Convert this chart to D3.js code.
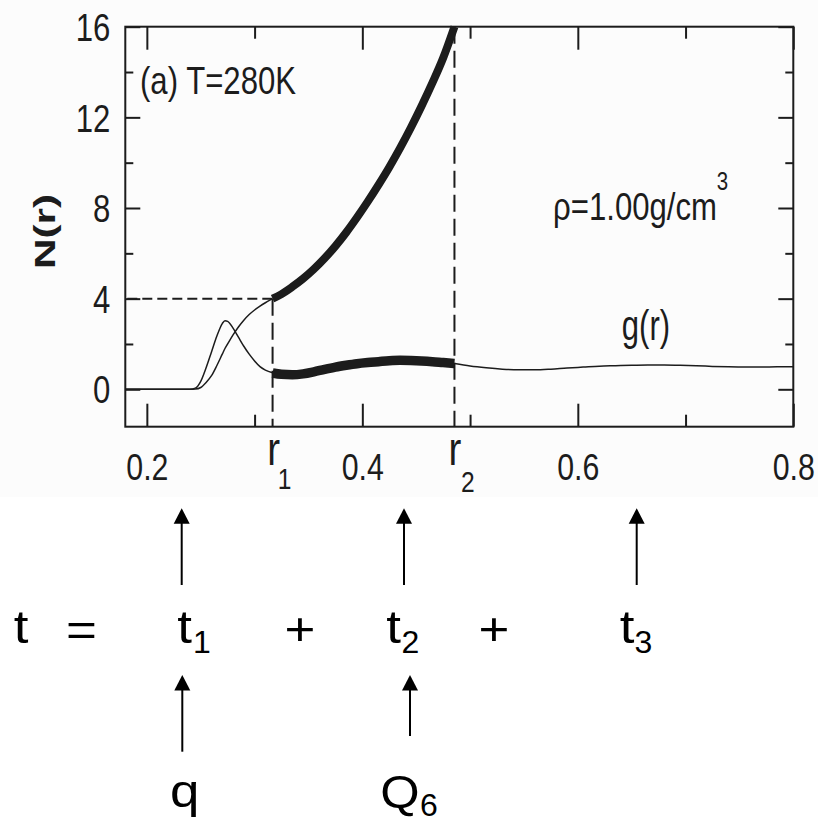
<!DOCTYPE html>
<html><head><meta charset="utf-8">
<script src="https://cdn.jsdelivr.net/npm/d3@7"></script>
<style>body{margin:0;background:#fff}svg{display:block}</style>
</head><body>
<script>
// ---------- data ----------
const xTickValues = [0.2, 0.4, 0.6, 0.8];
const xMinorTicks = [0.3, 0.5, 0.7];
const yTickValues = [0, 4, 8, 12, 16];
const yMinorTicks = [2, 6, 10, 14];
const r1 = 0.3167, r2 = 0.4855;
const nAtR1 = 4, nAtR2 = 16;

// first shell (thin lines, r < r1)
const rInner = [0.18, 0.20, 0.22, 0.24, 0.245, 0.25, 0.255, 0.26, 0.265, 0.27, 0.2725, 0.275, 0.28, 0.285, 0.29, 0.295, 0.30, 0.305, 0.31, 0.3167];
const gInner = [0, 0, 0, 0, 0.05, 0.35, 0.95, 1.65, 2.35, 2.9, 3.03, 3.0, 2.7, 2.3, 1.9, 1.55, 1.25, 1.0, 0.85, 0.73];
const nInner = [0, 0, 0, 0, 0.01, 0.08, 0.3, 0.6, 1.05, 1.55, 1.8, 2.0, 2.4, 2.75, 3.05, 3.3, 3.5, 3.67, 3.82, 4.0];

// second shell (thick lines, r1..r2)
const rShell = [0.3167, 0.325, 0.335, 0.345, 0.355, 0.365, 0.375, 0.385, 0.395, 0.405, 0.415, 0.425, 0.435, 0.445, 0.455, 0.465, 0.475, 0.4855];
const nShell = [4.0, 4.2, 4.52, 4.88, 5.3, 5.78, 6.32, 6.92, 7.58, 8.28, 9.02, 9.8, 10.64, 11.54, 12.5, 13.52, 14.62, 16.0];
const gShell = [0.72, 0.66, 0.64, 0.68, 0.77, 0.88, 0.98, 1.06, 1.13, 1.18, 1.22, 1.26, 1.28, 1.27, 1.25, 1.22, 1.18, 1.14];

// beyond r2 (thin g(r))
const rOuter = [0.4855, 0.50, 0.515, 0.53, 0.545, 0.56, 0.575, 0.59, 0.605, 0.62, 0.635, 0.65, 0.665, 0.68, 0.695, 0.71, 0.725, 0.74, 0.755, 0.77, 0.785, 0.80];
const gOuter = [1.14, 1.03, 0.95, 0.89, 0.86, 0.86, 0.89, 0.94, 0.98, 1.02, 1.04, 1.06, 1.07, 1.07, 1.06, 1.04, 1.01, 0.99, 0.98, 0.98, 0.99, 0.99];

// ---------- drawing ----------
const W = 818, H = 823;
const ink = "#1c1c1c";
const FONT = "'Liberation Sans', Arial, Helvetica, sans-serif";
const svg = d3.select("body").append("svg").attr("width", W).attr("height", H);
svg.append("rect").attr("width", W).attr("height", H).attr("fill", "#ffffff");
svg.append("rect").attr("width", W).attr("height", 497).attr("fill", "#fcfcfc");

const x = d3.scaleLinear().domain([0.18, 0.8]).range([125.3, 793.3]);
const y = d3.scaleLinear().domain([-1.65, 16]).range([426.7, 26.7]);
const [x0, x1] = x.range();
const [yb, yt] = y.range();

function axisG(axis, tx, ty) {
  const g = svg.append("g").attr("transform", `translate(${tx},${ty})`).call(axis);
  g.select(".domain").remove();
  g.selectAll("line").attr("stroke", ink).attr("stroke-width", 2);
  g.attr("font-family", FONT).attr("font-size", 37);
  g.selectAll("text").attr("fill", ink);
  return g;
}
// bottom
const gb = axisG(d3.axisBottom(x).tickValues(xTickValues).tickSize(-23).tickFormat(d3.format(".1f")), 0, yb);
gb.selectAll("text").attr("y", 53.3).attr("dy", null).attr("transform", "scale(0.82,1)");
axisG(d3.axisBottom(x).tickValues(xMinorTicks).tickSize(-12).tickFormat(""), 0, yb);
// top
axisG(d3.axisTop(x).tickValues(xTickValues).tickSize(-23).tickFormat(""), 0, yt);
axisG(d3.axisTop(x).tickValues(xMinorTicks).tickSize(-12).tickFormat(""), 0, yt);
// left
const gl = axisG(d3.axisLeft(y).tickValues(yTickValues).tickSize(-15).tickFormat(d3.format("d")), x0, 0);
gl.selectAll("text").attr("x", -15 / 0.82).attr("dy", "0.36em").attr("transform", "scale(0.82,1)").attr("font-size", 38);
axisG(d3.axisLeft(y).tickValues(yMinorTicks).tickSize(-8).tickFormat(""), x0, 0);
// right
axisG(d3.axisRight(y).tickValues(yTickValues).tickSize(-15).tickFormat(""), x1, 0);
axisG(d3.axisRight(y).tickValues(yMinorTicks).tickSize(-8).tickFormat(""), x1, 0);

// frame
svg.append("rect").attr("x", x0).attr("y", yt).attr("width", x1 - x0).attr("height", yb - yt)
  .attr("fill", "none").attr("stroke", ink).attr("stroke-width", 2);

// dashed guides
const dashG = svg.append("g").attr("stroke", ink).attr("stroke-width", 2).attr("fill", "none");
dashG.append("line").attr("x1", x0 + 2).attr("x2", x(r1)).attr("y1", y(nAtR1)).attr("y2", y(nAtR1)).attr("stroke-dasharray", "10,5");
dashG.append("line").attr("x1", x(r1)).attr("x2", x(r1)).attr("y1", y(nAtR1)).attr("y2", yb).attr("stroke-dasharray", "17,7");
dashG.append("line").attr("x1", x(r2)).attr("x2", x(r2)).attr("y1", y(nAtR2)).attr("y2", yb).attr("stroke-dasharray", "17,7");

// curves
const line = d3.line().x(d => x(d[0])).y(d => y(d[1])).curve(d3.curveMonotoneX);
const zip = (a, b) => a.map((v, i) => [v, b[i]]);
const curves = svg.append("g").attr("fill", "none").attr("stroke", ink).attr("stroke-linejoin", "round");
curves.append("path").attr("d", line(zip(rInner, gInner))).attr("stroke-width", 1.5);
curves.append("path").attr("d", line(zip(rInner, nInner))).attr("stroke-width", 1.5);
curves.append("path").attr("d", line(zip(rOuter, gOuter))).attr("stroke-width", 1.5);
curves.append("path").attr("d", line(zip(rShell, gShell))).attr("stroke-width", 9.5);
curves.append("path").attr("d", line(zip(rShell, nShell))).attr("stroke-width", 8);

// text helper
function txt(px, py, s, size, sx, opts = {}) {
  return svg.append("text")
    .attr("transform", `translate(${px},${py}) scale(${sx},1)`)
    .attr("font-family", FONT).attr("font-size", size)
    .attr("text-anchor", opts.anchor || "start")
    .attr("font-weight", opts.weight || "normal")
    .attr("fill", opts.fill || ink)
    .text(s);
}
// chart annotations
txt(140, 94, "(a) T=280K", 38, 0.82);
txt(553, 220, "ρ=1.00g/cm", 38, 0.82);
txt(722.5, 190, "3", 25, 0.82, { anchor: "middle" });
txt(646, 340, "g(r)", 42, 0.74, { anchor: "middle" });
// r1, r2 labels
txt(x(r1) + 1, 465, "r", 47, 0.82, { anchor: "middle" });
txt(x(r1) + 12, 488.5, "1", 30, 0.82, { anchor: "middle" });
txt(x(r2) + 0.5, 465, "r", 47, 0.82, { anchor: "middle" });
txt(x(r2) + 13.5, 491.5, "2", 30, 0.82, { anchor: "middle" });
// y-axis title
svg.append("text")
  .attr("transform", "translate(55,231.5) rotate(-90) scale(1.41,1)")
  .attr("font-family", FONT).attr("font-size", 30).attr("font-weight", "bold")
  .attr("text-anchor", "middle").attr("fill", ink).text("N(r)");

// ---------- formula below ----------
const blk = "#000";
const fS = 46, sS = 32, sx = 1.15;
txt(21, 643, "t", fS, sx, { anchor: "middle", fill: blk });
txt(81.5, 646, "=", fS, sx, { anchor: "middle", fill: blk });
txt(184.5, 643, "t", fS, sx, { anchor: "middle", fill: blk });
txt(201.8, 653, "1", sS, 1.0, { anchor: "middle", fill: blk });
txt(300, 645, "+", fS, sx, { anchor: "middle", fill: blk });
txt(393.5, 643, "t", fS, sx, { anchor: "middle", fill: blk });
txt(410.5, 653, "2", sS, 1.0, { anchor: "middle", fill: blk });
txt(494, 645, "+", fS, sx, { anchor: "middle", fill: blk });
txt(627, 643, "t", fS, sx, { anchor: "middle", fill: blk });
txt(643.5, 653, "3", sS, 1.0, { anchor: "middle", fill: blk });
txt(184.7, 807, "q", fS, sx, { anchor: "middle", fill: blk });
txt(400, 808, "Q", fS, 1.1, { anchor: "middle", fill: blk });
txt(428.8, 815.5, "6", sS, 1.0, { anchor: "middle", fill: blk });

// arrows
function arrow(ax, tip, bottom) {
  const g = svg.append("g");
  g.append("line").attr("x1", ax).attr("x2", ax).attr("y1", tip + 10).attr("y2", bottom)
    .attr("stroke", blk).attr("stroke-width", 2);
  g.append("path").attr("d", `M${ax},${tip} L${ax - 8},${tip + 15.5} L${ax + 8},${tip + 15.5} Z`).attr("fill", blk);
}
arrow(181.7, 508.3, 585);
arrow(404, 508.3, 585);
arrow(636.7, 508.3, 585);
arrow(182.3, 675, 751.7);
arrow(410, 675, 736);
</script>
</body></html>
